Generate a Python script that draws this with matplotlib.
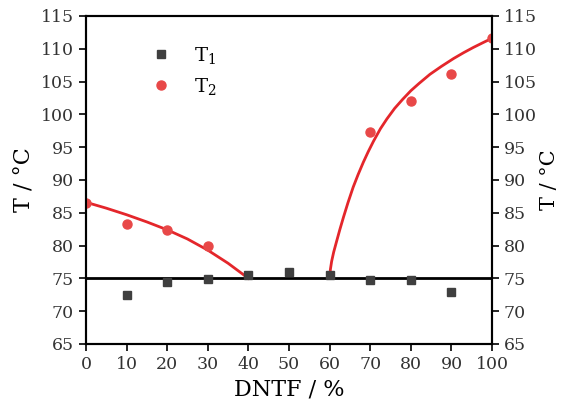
import matplotlib.pyplot as plt

plt.rcParams['font.family'] = ['DejaVu Serif']
plt.rcParams['mathtext.default'] = 'regular'

# Données mesurées
dntf = [10, 20, 30, 40, 50, 60, 70, 80, 90]
t1 = [72.5, 74.5, 74.9, 75.5, 75.9, 75.5, 74.7, 74.8, 72.9]

dntf_t2 = [0, 10, 20, 30, 70, 80, 90, 100]
t2 = [86.5, 83.25, 82.3, 79.9, 97.3, 102.1, 106.2, 111.6]

# Courbes (liquidus)
fit_left_x = [0, 5, 10, 15, 20, 25, 30, 35, 40]
fit_left_y = [86.6, 85.7, 84.7, 83.6, 82.4, 81.0, 79.3, 77.3, 75.0]
fit_right_x = [60, 60.2, 60.5, 61, 61.7, 62.5, 63.4, 64.5, 65.8, 67, 68.3, 69.5,
               70.8, 72.5, 74.1, 76, 78, 80, 82, 84.7, 87.5, 90.5, 93, 95.4, 98, 100]
fit_right_y = [75.0, 76.4, 77.6, 79.0, 80.6, 82.4, 84.3, 86.5, 88.9, 90.8, 92.7, 94.3,
               95.9, 97.8, 99.3, 100.9, 102.3, 103.6, 104.7, 106.1, 107.3, 108.5,
               109.4, 110.2, 111.0, 111.6]
eutectic = 75.0

xticks = [0, 10, 20, 30, 40, 50, 60, 70, 80, 90, 100]
yticks = [65, 70, 75, 80, 85, 90, 95, 100, 105, 110, 115]

fig = plt.figure(figsize=(5.65, 4.08), dpi=100)
ax = fig.add_axes([0.152, 0.157, 0.719, 0.804])

ax.axhline(eutectic, color='black', lw=2, zorder=2)
ax.plot(fit_left_x, fit_left_y, color='#e4262b', lw=2, zorder=3)
ax.plot(fit_right_x, fit_right_y, color='#e4262b', lw=2, zorder=3)
ax.plot(dntf, t1, 's', color='#3f3f3f', ms=6, label='T$_1$', zorder=4)
ax.plot(dntf_t2, t2, 'o', color='#e84848', ms=6.5, label='T$_2$', zorder=4)

ax.set_xlim(0, 100)
ax.set_ylim(65, 115)
ax.set_xticks(xticks)
ax.set_yticks(yticks)
ax.set_xlabel('DNTF / %', fontsize=16, labelpad=4)
ax.set_ylabel('T / °C', fontsize=16, labelpad=4)
ax.tick_params(direction='out', length=5, width=1.2, labelsize=12.5, labelcolor='#333333', top=False)
for s in ax.spines.values():
    s.set_linewidth(1.5)

ax2 = ax.twinx()
ax2.set_ylim(65, 115)
ax2.set_yticks(yticks)
ax2.set_ylabel('T / °C', fontsize=15, labelpad=2)
ax2.tick_params(direction='out', length=5, width=1.2, labelsize=12.5, labelcolor='#333333')
for s in ax2.spines.values():
    s.set_linewidth(1.5)

ax.legend(loc='upper left', bbox_to_anchor=(0.095, 0.965), frameon=False, fontsize=14,
          handletextpad=0.7, labelspacing=0.5)

fig.savefig('out.png', dpi=100)
